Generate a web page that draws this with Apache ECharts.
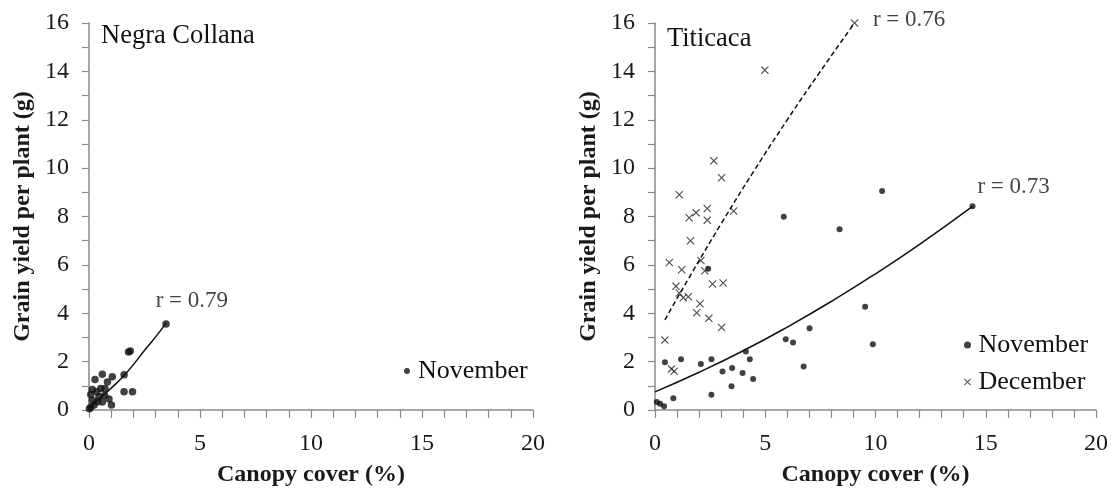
<!DOCTYPE html>
<html>
<head>
<meta charset="utf-8">
<script src="https://cdn.jsdelivr.net/npm/echarts@6/dist/echarts.min.js"></script>
<style>html,body{margin:0;padding:0;background:#fff}#c{width:1111px;height:492px}</style>
</head>
<body>
<div id="c"></div>
<script>
// ---- data ----
const negraNov = [[0.02,0.05],[0.08,0.12],[0.15,0.40],[0.23,0.21],[0.38,0.34],[0.6,0.33],[0.45,0.55],[0.08,0.64],[0.15,0.85],[0.53,0.89],[0.72,0.89],[0.9,0.45],[1.01,0.21],[0.27,1.26],[0.83,1.16],[0.6,1.48],[1.05,1.37],[1.58,1.46],[1.58,0.75],[1.96,0.75],[1.78,2.40],[1.86,2.44],[3.47,3.56],[0.35,0.75],[0.7,0.6]];
const negraTrend = [[0,0.1],[0.9,0.82],[1.66,1.51],[2.56,2.53],[3.17,3.22],[3.47,3.6]];
const titiNov = [[0.08,0.33],[0.23,0.26],[0.41,0.16],[0.83,0.49],[0.45,1.97],[1.18,2.1],[2.08,1.9],[2.56,2.1],[2.56,0.63],[3.06,1.59],[3.5,1.74],[3.47,0.98],[3.97,1.53],[4.45,1.28],[4.12,2.42],[4.3,2.1],[2.41,5.84],[5.84,7.99],[8.37,7.47],[5.93,2.93],[6.26,2.79],[7.01,3.38],[6.74,1.8],[9.53,4.27],[9.88,2.72],[10.3,9.05],[14.4,8.42]];
const titiDec = [[9.05,16.0],[4.98,14.05],[2.67,10.3],[3.02,9.6],[1.1,8.9],[1.55,7.95],[1.86,8.16],[2.37,8.33],[2.37,7.85],[3.57,8.23],[1.61,7.0],[0.65,6.1],[1.21,5.8],[2.08,6.18],[2.26,5.76],[2.61,5.21],[3.09,5.25],[0.95,5.12],[1.1,4.84],[1.28,4.64],[1.51,4.68],[2.04,4.39],[1.89,4.02],[2.44,3.79],[3.02,3.41],[0.45,2.89],[0.75,1.7],[0.87,1.6]];
const titiNovTrend = [[0,0.75],[2,1.56],[4,2.45],[6,3.43],[8,4.49],[10,5.63],[12,6.85],[14.4,8.42]];
const titiDecTrend = [[0.45,3.73],[1.5,5.4],[3,7.7],[4.5,9.9],[6,12.0],[7.5,14.0],[9.05,16.0]];
const negraR = [[2.98,4.52,'r = 0.79']];
const titiR = [[9.86,16.12,'r = 0.76'],[14.6,9.23,'r = 0.73']];
const panelNames = ['Negra Collana','Titicaca'];
const seriesNames = ['November','December'];
const xTitle = 'Canopy cover (%)';
const yTitle = 'Grain yield per plant (g)';

const FF = '"Liberation Serif","Times New Roman",serif';
const AX = '#8a8a8a';
const INK = '#111';
const XPATH = 'path://M0,1 L1,0 L5,4 L9,0 L10,1 L6,5 L10,9 L9,10 L5,6 L1,10 L0,9 L4,5 Z';

function xAxisDef(i){
  return {gridIndex:i, type:'value', min:0, max:20, interval:5,
    axisLine:{show:true, onZero:false, lineStyle:{color:AX, width:1.5}},
    axisTick:{show:true, length:8, lineStyle:{color:AX, width:1.2}},
    minorTick:{show:true, splitNumber:5, length:8, lineStyle:{color:AX, width:1.2}},
    splitLine:{show:false}, minorSplitLine:{show:false},
    axisLabel:{fontFamily:FF, fontSize:24, color:'#1a1a1a', margin:22},
    name:xTitle, nameLocation:'middle', nameGap:53,
    nameTextStyle:{fontFamily:FF, fontSize:24, fontWeight:'bold', color:'#1a1a1a'}};
}
function yAxisDef(i){
  return {gridIndex:i, type:'value', min:0, max:16, interval:2,
    axisLine:{show:true, onZero:false, lineStyle:{color:AX, width:1.5}},
    axisTick:{show:true, length:7, lineStyle:{color:AX, width:1.2}},
    minorTick:{show:true, splitNumber:2, length:7, lineStyle:{color:AX, width:1.2}},
    splitLine:{show:false}, minorSplitLine:{show:false},
    axisLabel:{fontFamily:FF, fontSize:24, color:'#1a1a1a', margin:20},
    name:yTitle, nameLocation:'middle', nameGap:54, nameRotate:90,
    nameTextStyle:{fontFamily:FF, fontSize:24, fontWeight:'bold', color:'#1a1a1a'}};
}
function rSeries(i, data){
  return {type:'scatter', name:'r'+i, xAxisIndex:i, yAxisIndex:i, data:data, symbolSize:1,
    itemStyle:{color:'rgba(0,0,0,0)'}, silent:true, clip:false, z:5,
    label:{show:true, position:'right', distance:0, formatter:p=>p.value[2],
      fontFamily:FF, fontSize:23, color:INK}};
}

const chart = echarts.init(document.getElementById('c'), null, {renderer:'canvas'});
chart.setOption({
  animation:false,
  backgroundColor:'#fff',
  title:[
    {text:panelNames[0], left:101, top:23, padding:0, textStyle:{fontFamily:FF, fontSize:26.5, fontWeight:'normal', color:INK}},
    {text:panelNames[1], left:667, top:26, padding:0, textStyle:{fontFamily:FF, fontSize:26.5, fontWeight:'normal', color:INK}}
  ],
  legend:[
    {data:[{name:seriesNames[0], icon:'circle'}], left:404, top:358, padding:0, itemWidth:12, itemHeight:6,
      textStyle:{fontFamily:FF, fontSize:26, color:INK}, selectedMode:false},
    {data:[{name:seriesNames[0], icon:'circle'},{name:seriesNames[1], icon:XPATH}], orient:'vertical', left:964, top:332, padding:0,
      itemWidth:12, itemHeight:7, itemGap:11, textStyle:{fontFamily:FF, fontSize:26, color:INK}, selectedMode:false}
  ],
  grid:[
    {left:89, right:578, top:23, bottom:80},
    {left:655, right:14, top:23, bottom:79}
  ],
  xAxis:[xAxisDef(0), xAxisDef(1)],
  yAxis:[yAxisDef(0), yAxisDef(1)],
  series:[
    {type:'scatter', name:seriesNames[0], xAxisIndex:0, yAxisIndex:0, data:negraNov, symbol:'circle', symbolSize:7.5, itemStyle:{color:INK}},
    {type:'line', name:'trend0', xAxisIndex:0, yAxisIndex:0, data:negraTrend, smooth:true, showSymbol:false, lineStyle:{color:INK, width:1.5}, silent:true},
    rSeries(0, negraR),
    {type:'scatter', name:seriesNames[0], xAxisIndex:1, yAxisIndex:1, data:titiNov, symbol:'circle', symbolSize:6, itemStyle:{color:INK}},
    {type:'scatter', name:seriesNames[1], xAxisIndex:1, yAxisIndex:1, data:titiDec, symbol:XPATH, symbolSize:8, itemStyle:{color:'#222'}},
    {type:'line', name:'trend1', xAxisIndex:1, yAxisIndex:1, data:titiNovTrend, smooth:true, showSymbol:false, lineStyle:{color:INK, width:1.5}, silent:true},
    {type:'line', name:'trend2', xAxisIndex:1, yAxisIndex:1, data:titiDecTrend, smooth:true, showSymbol:false, lineStyle:{color:INK, width:1.5, type:[5,3]}, silent:true},
    rSeries(1, titiR)
  ]
});
</script>
</body>
</html>
